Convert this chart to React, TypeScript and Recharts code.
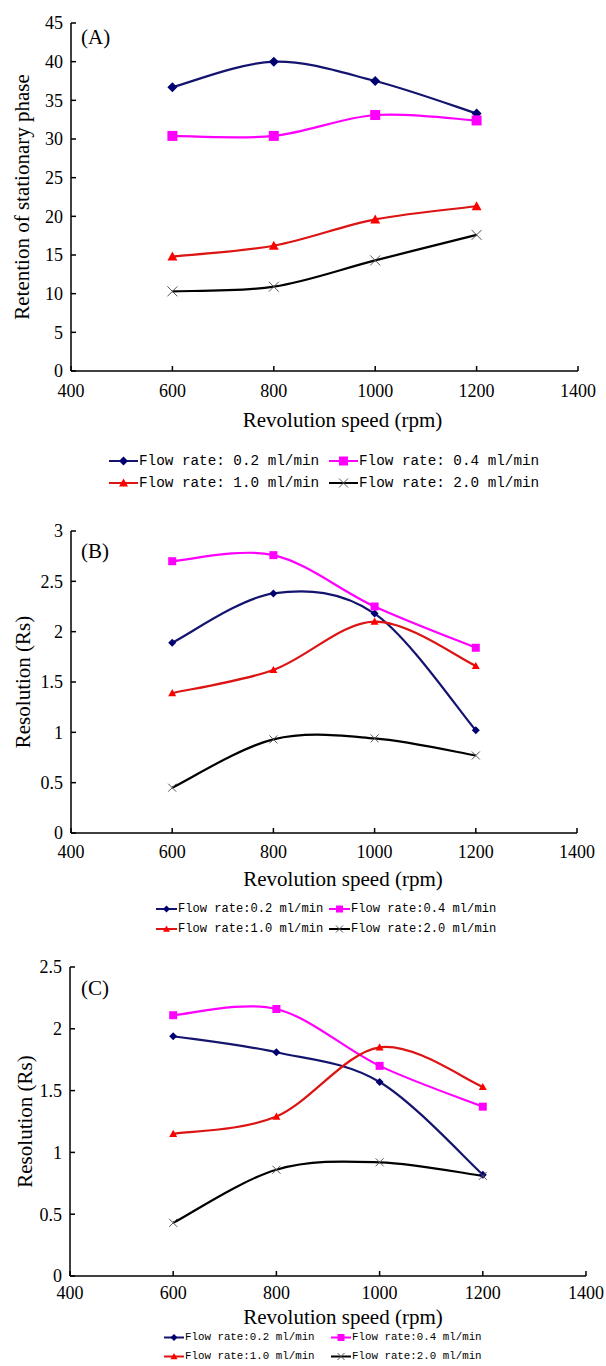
import { LineChart, Line, XAxis, YAxis, Legend } from "recharts";

// x values (rpm) and axis ticks
const speeds = [600, 800, 1000, 1200];
const xTicks = [400, 600, 800, 1000, 1200, 1400];

// (A) retention of stationary phase
const retention02 = [36.7, 40.0, 37.5, 33.3];
const retention04 = [30.4, 30.4, 33.1, 32.4];
const retention10 = [14.8, 16.2, 19.6, 21.3];
const retention20 = [10.3, 10.9, 14.3, 17.6];
const yTicksA = [0, 5, 10, 15, 20, 25, 30, 35, 40, 45];

// (B) resolution
const resB02 = [1.89, 2.38, 2.18, 1.02];
const resB04 = [2.70, 2.76, 2.25, 1.84];
const resB10 = [1.39, 1.62, 2.10, 1.66];
const resB20 = [0.45, 0.93, 0.94, 0.77];
const yTicksB = [0, 0.5, 1, 1.5, 2, 2.5, 3];

// (C) resolution
const resC02 = [1.94, 1.81, 1.57, 0.82];
const resC04 = [2.11, 2.16, 1.70, 1.37];
const resC10 = [1.15, 1.29, 1.85, 1.53];
const resC20 = [0.43, 0.86, 0.92, 0.81];
const yTicksC = [0, 0.5, 1, 1.5, 2, 2.5];

const namesA = [
  "Flow rate: 0.2 ml/min",
  "Flow rate: 0.4 ml/min",
  "Flow rate: 1.0 ml/min",
  "Flow rate: 2.0 ml/min",
];
const namesBC = [
  "Flow rate:0.2 ml/min",
  "Flow rate:0.4 ml/min",
  "Flow rate:1.0 ml/min",
  "Flow rate:2.0 ml/min",
];

type Kind = "diamond" | "square" | "triangle" | "cross";

const seriesStyle: Record<string, { line: string; mark: string; kind: Kind }> = {
  f02: { line: "#14146e", mark: "#000070", kind: "diamond" },
  f04: { line: "#ff00ff", mark: "#ff00ff", kind: "square" },
  f10: { line: "#dc1414", mark: "#ff0000", kind: "triangle" },
  f20: { line: "#000000", mark: "#555555", kind: "cross" },
};
const keys = ["f02", "f04", "f10", "f20"];

function rows(vals: number[][]) {
  return speeds.map((speed, i) => ({
    speed,
    f02: vals[0][i],
    f04: vals[1][i],
    f10: vals[2][i],
    f20: vals[3][i],
  }));
}

// Excel-like smoothed line (Catmull-Rom through every point)
function smoothCurve(context: any) {
  let pts: number[][] = [];
  return {
    areaStart() {},
    areaEnd() {},
    lineStart() {
      pts = [];
    },
    point(x: number, y: number) {
      pts.push([+x, +y]);
    },
    lineEnd() {
      if (!pts.length) return;
      context.moveTo(pts[0][0], pts[0][1]);
      for (let i = 0; i < pts.length - 1; i++) {
        const p0 = pts[i - 1] || pts[i];
        const p1 = pts[i];
        const p2 = pts[i + 1];
        const p3 = pts[i + 2] || p2;
        context.bezierCurveTo(
          p1[0] + (p2[0] - p0[0]) / 6,
          p1[1] + (p2[1] - p0[1]) / 6,
          p2[0] - (p3[0] - p1[0]) / 6,
          p2[1] - (p3[1] - p1[1]) / 6,
          p2[0],
          p2[1]
        );
      }
    },
  };
}

function Marker({ kind, cx, cy, size, color }: { kind: Kind; cx: number; cy: number; size: number; color: string }) {
  const s = size / 2;
  if (kind === "diamond")
    return <polygon points={`${cx},${cy - s} ${cx + s},${cy} ${cx},${cy + s} ${cx - s},${cy}`} fill={color} />;
  if (kind === "square") return <rect x={cx - s} y={cy - s} width={size} height={size} fill={color} />;
  if (kind === "triangle")
    return <polygon points={`${cx},${cy - s} ${cx + s},${cy + s * 0.8} ${cx - s},${cy + s * 0.8}`} fill={color} />;
  return (
    <g stroke={color} strokeWidth={1}>
      <line x1={cx - s} y1={cy - s} x2={cx + s} y2={cy + s} />
      <line x1={cx - s} y1={cy + s} x2={cx + s} y2={cy - s} />
    </g>
  );
}

interface PanelCfg {
  tag: string;
  top: number;
  height: number;
  margin: { top: number; right: number; left: number; bottom: number };
  data: ReturnType<typeof rows>;
  names: string[];
  yDomain: [number, number];
  yTicks: number[];
  yLabel: string;
  yLabelOffset: number;
  xTickMargin: number;
  xHeight: number;
  titleDx: number;
  titleDy: number;
  markSize: number;
  legend: {
    height: number;
    padTop: number;
    left: number;
    itemWidth: number;
    rowHeight: number;
    iconWidth: number;
    font: number;
  };
  tagTop: number;
}

const serif = "'Liberation Serif', 'Times New Roman', serif";

function LegendGrid({ payload, cfg }: { payload?: any[]; cfg: PanelCfg }) {
  const L = cfg.legend;
  return (
    <div style={{ height: L.height, paddingTop: L.padTop, boxSizing: "border-box" }}>
      <div
        style={{
          display: "flex",
          flexWrap: "wrap",
          marginLeft: L.left,
          width: L.itemWidth * 2,
          fontFamily: "'Liberation Mono', monospace",
          fontSize: L.font,
          color: "#000",
        }}
      >
        {(payload || []).map((p: any) => {
          const st = seriesStyle[p.dataKey];
          const h = L.rowHeight;
          return (
            <div key={p.dataKey} style={{ width: L.itemWidth, height: h, display: "flex", alignItems: "center" }}>
              <svg width={L.iconWidth} height={h} style={{ flex: "none" }}>
                <line x1={1} y1={h / 2} x2={L.iconWidth - 1} y2={h / 2} stroke={st.line} strokeWidth={2} />
                <Marker kind={st.kind} cx={L.iconWidth / 2} cy={h / 2} size={cfg.markSize - 1} color={st.mark} />
              </svg>
              <span style={{ whiteSpace: "pre", lineHeight: `${h}px` }}>{p.value}</span>
            </div>
          );
        })}
      </div>
    </div>
  );
}

function Panel({ cfg }: { cfg: PanelCfg }) {
  const tickStyle = { fill: "#000", fontSize: 18, fontFamily: serif };
  return (
    <div style={{ position: "absolute", top: cfg.top, left: 0, width: 606, height: cfg.height }}>
      <LineChart width={606} height={cfg.height} data={cfg.data} margin={cfg.margin}>
        <XAxis
          type="number"
          dataKey="speed"
          domain={[400, 1400]}
          ticks={xTicks}
          interval={0}
          height={cfg.xHeight}
          tickSize={-5}
          tickMargin={cfg.xTickMargin}
          axisLine={{ stroke: "#000", strokeWidth: 1.5 }}
          tickLine={{ stroke: "#000", strokeWidth: 1.5 }}
          tick={tickStyle}
          label={(p: any) => (
            <text
              x={p.viewBox.x + p.viewBox.width / 2 + cfg.titleDx}
              y={p.viewBox.y + cfg.titleDy}
              textAnchor="middle"
              fill="#000"
              fontSize={21}
              fontFamily={serif}
            >
              Revolution speed (rpm)
            </text>
          )}
        />
        <YAxis
          type="number"
          domain={cfg.yDomain}
          ticks={cfg.yTicks}
          interval={0}
          width={55}
          tickSize={-5}
          tickMargin={13}
          allowDataOverflow
          axisLine={{ stroke: "#000", strokeWidth: 1.5 }}
          tickLine={{ stroke: "#000", strokeWidth: 1.5 }}
          tick={tickStyle}
          label={{
            value: cfg.yLabel,
            angle: -90,
            position: "insideLeft",
            offset: cfg.yLabelOffset,
            style: { textAnchor: "middle", fill: "#000", fontSize: 21, fontFamily: serif },
          }}
        />
        <Legend
          verticalAlign="bottom"
          wrapperStyle={{ left: 0, width: 606 }}
          content={(props: any) => <LegendGrid payload={props.payload} cfg={cfg} />}
        />
        {keys.map((k, i) => {
          const st = seriesStyle[k];
          return (
            <Line
              key={k}
              dataKey={k}
              name={cfg.names[i]}
              type={smoothCurve as any}
              stroke={st.line}
              strokeWidth={2.2}
              isAnimationActive={false}
              activeDot={false}
              dot={(p: any) => (
                <Marker key={`${k}-${p.index}`} kind={st.kind} cx={p.cx} cy={p.cy} size={cfg.markSize} color={st.mark} />
              )}
            />
          );
        })}
      </LineChart>
      <div
        style={{
          position: "absolute",
          left: 81,
          top: cfg.tagTop,
          fontFamily: serif,
          fontSize: 21,
          lineHeight: "24px",
          color: "#000",
        }}
      >
        {cfg.tag}
      </div>
    </div>
  );
}

const panels: PanelCfg[] = [
  {
    tag: "(A)",
    top: 0,
    height: 498,
    margin: { top: 23, right: 28, left: 16, bottom: 4 },
    data: rows([retention02, retention04, retention10, retention20]),
    names: namesA,
    yDomain: [0, 45],
    yTicks: yTicksA,
    yLabel: "Retention of stationary phase",
    yLabelOffset: 6,
    xTickMargin: 18,
    xHeight: 60,
    titleDx: 18,
    titleDy: 56,
    markSize: 10,
    legend: { height: 63, padTop: 19, left: 108, itemWidth: 220, rowHeight: 22, iconWidth: 31, font: 14.3 },
    tagTop: 25,
  },
  {
    tag: "(B)",
    top: 490,
    height: 452,
    margin: { top: 41, right: 29, left: 16, bottom: 3 },
    data: rows([resB02, resB04, resB10, resB20]),
    names: namesBC,
    yDomain: [0, 3],
    yTicks: yTicksB,
    yLabel: "Resolution (Rs)",
    yLabelOffset: 7,
    xTickMargin: 17,
    xHeight: 56,
    titleDx: 19,
    titleDy: 53,
    markSize: 8,
    legend: { height: 50, padTop: 10, left: 155, itemWidth: 173, rowHeight: 20, iconWidth: 23, font: 12.1 },
    tagTop: 551 - 490 - 12,
  },
  {
    tag: "(C)",
    top: 939,
    height: 427,
    margin: { top: 28, right: 20, left: 15, bottom: 0 },
    data: rows([resC02, resC04, resC10, resC20]),
    names: namesBC,
    yDomain: [0, 2.5],
    yTicks: yTicksC,
    yLabel: "Resolution (Rs)",
    yLabelOffset: 10,
    xTickMargin: 15,
    xHeight: 52,
    titleDx: 15,
    titleDy: 48,
    markSize: 8,
    legend: { height: 38, padTop: 0, left: 163, itemWidth: 167, rowHeight: 19, iconWidth: 22, font: 10.8 },
    tagTop: 988 - 939 - 12,
  },
];

export default function App() {
  return (
    <div style={{ position: "absolute", top: 0, left: 0, width: 606, height: 1366, background: "#fff" }}>
      {panels.map((p) => (
        <Panel key={p.tag} cfg={p} />
      ))}
    </div>
  );
}
